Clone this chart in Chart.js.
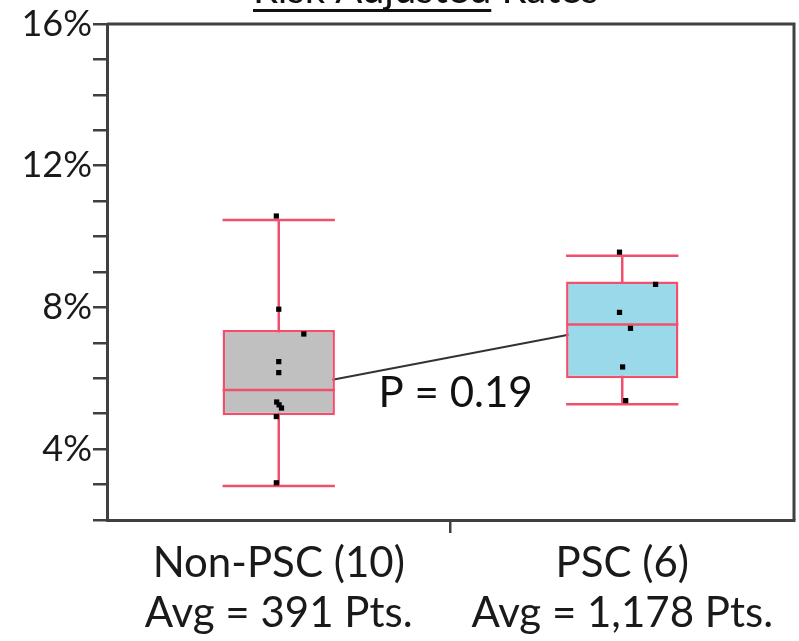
<!DOCTYPE html>
<html><head><meta charset="utf-8">
<script src="https://cdn.jsdelivr.net/npm/chart.js@4.4.1/dist/chart.umd.min.js"></script>
<style>html,body{margin:0;padding:0;background:#fff;overflow:hidden}#wrap{width:799px;height:641px;position:relative}</style>
</head><body><div id="wrap"><canvas id="c" width="799" height="641"></canvas></div>
<script>
// ---- data ----
const categories = [['Non-PSC (10)', 'Avg = 391 Pts.'], ['PSC (6)', 'Avg = 1,178 Pts.']];
const whiskerLow  = [2.96, 5.27];
const q1          = [4.96, 6.00];
const medians     = [5.67, 7.52];
const q3          = [7.36, 8.73];
const whiskerHigh = [10.47, 9.46];
const nonPscPoints = [10.58, 7.95, 7.25, 6.47, 6.16, 5.33, 5.25, 5.16, 4.92, 3.05];
const nonPscJitter = [-0.007, 0, 0.073, 0, 0, -0.006, 0.001, 0.008, -0.007, -0.007];
const pscPoints    = [9.56, 8.65, 7.86, 7.41, 6.32, 5.37];
const pscJitter    = [-0.008, 0.097, -0.008, 0.024, 0.001, 0.01];
const yTickLabels  = [4, 8, 12, 16];
const titleParts   = ['Risk Adjusted', ' Rates'];
const pValueLabel  = 'P = 0.19';

const BOX_LINE = '#f0506e';
const AXIS = '#404040';
const BOX_IDX = 1;

const boxPlugin = {
  id: 'boxparts',
  beforeDatasetDraw(chart, args) {
    if (args.index !== BOX_IDX) return;
    const meta = chart.getDatasetMeta(BOX_IDX), y = chart.scales.y, ctx = chart.ctx;
    ctx.save(); ctx.strokeStyle = BOX_LINE; ctx.lineWidth = 2.5;
    meta.data.forEach((bar, i) => {
      const x = bar.x, hw = bar.width / 2;
      const yl = y.getPixelForValue(whiskerLow[i]), yh = y.getPixelForValue(whiskerHigh[i]);
      ctx.beginPath();
      ctx.moveTo(x, yl); ctx.lineTo(x, yh);
      ctx.moveTo(x - hw, yl); ctx.lineTo(x + hw, yl);
      ctx.moveTo(x - hw, yh); ctx.lineTo(x + hw, yh);
      ctx.stroke();
    });
    ctx.restore();
  },
  afterDatasetDraw(chart, args) {
    if (args.index !== BOX_IDX) return;
    const meta = chart.getDatasetMeta(BOX_IDX), y = chart.scales.y, ctx = chart.ctx;
    ctx.save(); ctx.strokeStyle = BOX_LINE; ctx.lineWidth = 2.5;
    meta.data.forEach((bar, i) => {
      const x = bar.x, hw = bar.width / 2, ym = y.getPixelForValue(medians[i]);
      ctx.beginPath(); ctx.moveTo(x - hw, ym); ctx.lineTo(x + hw, ym); ctx.stroke();
    });
    ctx.restore();
  },
  afterDraw(chart) {
    const ctx = chart.ctx, a = chart.chartArea;
    ctx.save();
    ctx.strokeStyle = AXIS; ctx.lineWidth = 3;
    ctx.beginPath();
    ctx.moveTo(a.left, a.top); ctx.lineTo(a.right, a.top); ctx.lineTo(a.right, a.bottom);
    ctx.stroke();
    // title (cut off by top of window)
    ctx.fillStyle = '#111'; ctx.font = '40px Lato'; ctx.textBaseline = 'alphabetic'; ctx.textAlign = 'left';
    const tx = 253, ty = 3;
    ctx.fillText(titleParts[0], tx, ty);
    const w0 = ctx.measureText(titleParts[0]).width;
    ctx.fillText(titleParts[1], tx + w0, ty);
    ctx.fillRect(tx, 9, w0, 3);
    // p-value label
    ctx.font = '42px Lato'; ctx.textAlign = 'center'; ctx.fillStyle = '#111';
    ctx.fillText(pValueLabel, chart.scales.x.getPixelForValue(0.515), chart.scales.y.getPixelForValue(5.19));
    ctx.restore();
  }
};

new Chart(document.getElementById('c'), {
  type: 'bar',
  data: {
    datasets: [
      { type: 'line', order: 3,
        data: medians.map((m, i) => ({ x: i, y: m })),
        borderColor: '#333', borderWidth: 2, pointRadius: 0, fill: false },
      { type: 'bar', order: 2,
        data: q1.map((v, i) => ({ x: i, y: [v, q3[i]] })),
        backgroundColor: ['#c0c0c0', '#99d9ea'], borderColor: BOX_LINE, borderWidth: 2.5,
        borderSkipped: false, barPercentage: 0.654, categoryPercentage: 1 },
      { type: 'scatter', order: 1,
        data: nonPscPoints.map((v, i) => ({ x: 0 + nonPscJitter[i], y: v })),
        backgroundColor: '#000', borderWidth: 0, pointStyle: 'rect', pointRadius: 3.7 },
      { type: 'scatter', order: 1,
        data: pscPoints.map((v, i) => ({ x: 1 + pscJitter[i], y: v })),
        backgroundColor: '#000', borderWidth: 0, pointStyle: 'rect', pointRadius: 3.7 }
    ]
  },
  options: {
    responsive: false, animation: false, devicePixelRatio: 1,
    layout: { padding: { left: 0, right: 5, top: 24, bottom: 0 } },
    plugins: { legend: { display: false }, tooltip: { enabled: false } },
    scales: {
      x: {
        type: 'linear', min: -0.5, max: 1.5, offset: false,
        grid: { offset: false, drawOnChartArea: false, tickLength: 13, lineWidth: 2.5,
                color: c => (c.tick && c.tick.value === 0.5) ? AXIS : 'rgba(0,0,0,0)' },
        border: { color: AXIS, width: 3 },
        ticks: { stepSize: 0.5, font: { family: 'Lato', size: 42 }, color: '#1a1a1a', padding: 5,
                 maxRotation: 0, autoSkip: false,
                 callback: v => (v === 0 || v === 1) ? categories[v] : '' },
        afterFit(s) { s.height = 121; }
      },
      y: {
        min: 2, max: 16,
        ticks: { stepSize: 1, autoSkip: false, padding: 1,
                 callback: v => yTickLabels.includes(v) ? v + '%' : '',
                 font: { family: 'Lato', size: 36 }, color: '#1a1a1a' },
        grid: { drawOnChartArea: false, tickLength: 14, color: AXIS, lineWidth: 2.5 },
        border: { color: AXIS, width: 3 },
        afterFit(s) { s.width = 107; }
      }
    }
  },
  plugins: [boxPlugin]
});
</script></body></html>
